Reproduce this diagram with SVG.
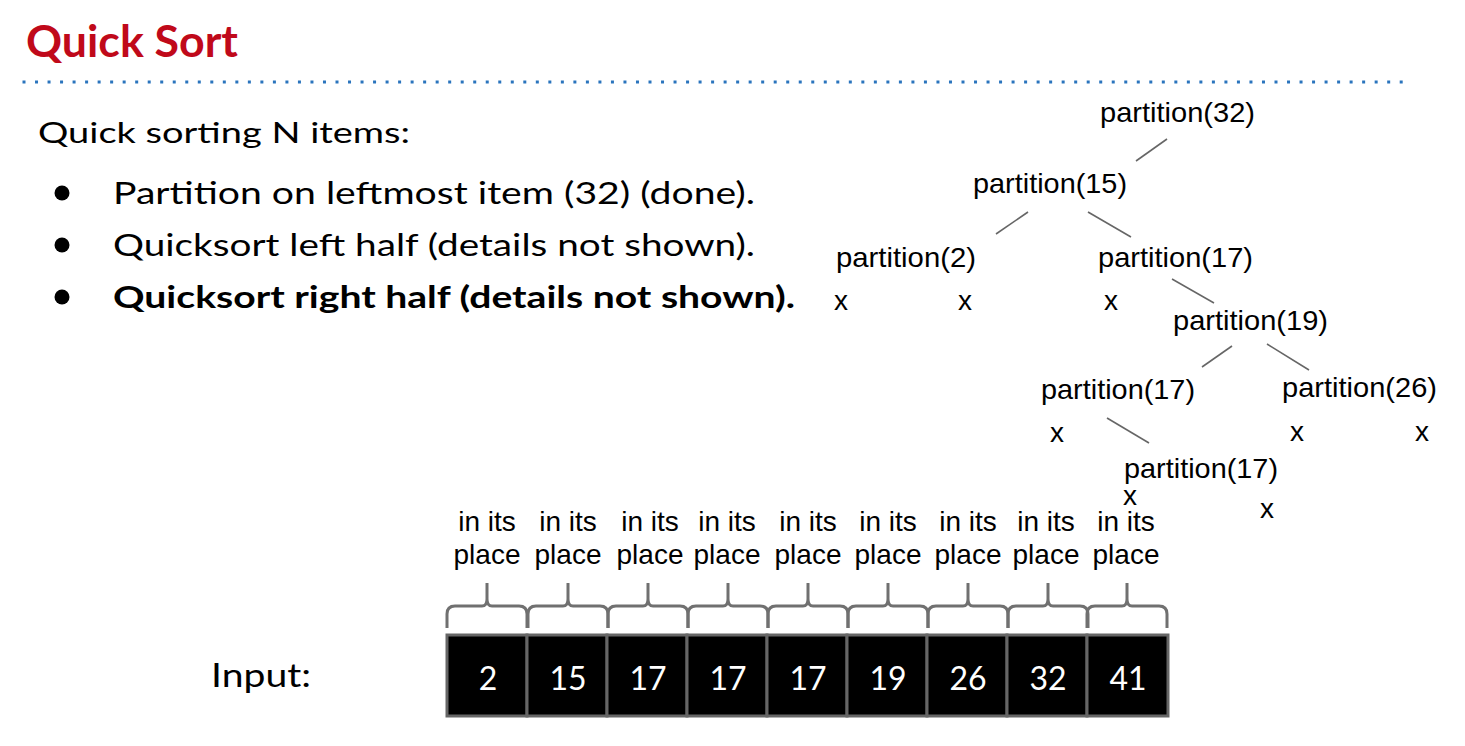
<svg xmlns="http://www.w3.org/2000/svg" width="1465" height="746" viewBox="0 0 1465 746">
<style>
.cal{font-family:Lato,"Open Sans","Liberation Sans",sans-serif;}
.ar{font-family:"Liberation Sans",Arial,sans-serif;font-size:28px;fill:#000;}
.bul{font-size:30px;fill:#000;}
.edge{stroke:#666;stroke-width:1.6;fill:none;}
.cell{fill:#000;stroke:#666;stroke-width:3;}
.num{font-size:32px;fill:#fff;text-anchor:middle;}
.brace{stroke:#707070;stroke-width:3;fill:none;stroke-linejoin:round;}
.lbl{text-anchor:middle;}
</style>
<defs>
<path id="br" d="M0,628 V614 Q0,606 8,606 H35 Q40,606 40,599 V583 M40,599 Q40,606 45,606 H72 Q80,606 80,614 V628"/>
</defs>
<rect width="1465" height="746" fill="#fff"/>
<g id="title">
<text class="cal" x="26" y="57" font-size="44" font-weight="bold" fill="#c0091a" textLength="212" lengthAdjust="spacingAndGlyphs">Quick Sort</text>
<line x1="22.5" y1="82" x2="1404" y2="82" stroke="#2a74bd" stroke-width="3" stroke-dasharray="3 9.52"/>
</g>
<g id="bullets">
<text class="cal" x="38" y="143" font-size="28" textLength="372" lengthAdjust="spacingAndGlyphs">Quick sorting N items:</text>
<circle cx="62" cy="193" r="7.5" fill="#000"/>
<circle cx="62" cy="245" r="7.5" fill="#000"/>
<circle cx="62" cy="297" r="7.5" fill="#000"/>
<text class="cal bul" x="113" y="204" textLength="642" lengthAdjust="spacingAndGlyphs">Partition on leftmost item (32) (done).</text>
<text class="cal bul" x="113" y="256" textLength="642" lengthAdjust="spacingAndGlyphs">Quicksort left half (details not shown).</text>
<text class="cal bul" x="113" y="308" font-weight="bold" textLength="682" lengthAdjust="spacingAndGlyphs">Quicksort right half (details not shown).</text>
</g>
<g id="connectors">
<line class="edge" x1="1167" y1="139" x2="1136" y2="161"/>
<line class="edge" x1="1028" y1="212" x2="996" y2="234"/>
<line class="edge" x1="1088" y1="212" x2="1131" y2="237"/>
<line class="edge" x1="1172" y1="279" x2="1214" y2="303"/>
<line class="edge" x1="1232" y1="346" x2="1202" y2="367"/>
<line class="edge" x1="1267" y1="344" x2="1309" y2="370"/>
<line class="edge" x1="1107" y1="418" x2="1149" y2="443"/>
</g>
<g id="p32"><text class="ar" x="1100" y="122" textLength="155" lengthAdjust="spacingAndGlyphs">partition(32)</text></g>
<g id="p15"><text class="ar" x="973" y="193" textLength="154" lengthAdjust="spacingAndGlyphs">partition(15)</text></g>
<g id="p2"><text class="ar" x="836" y="267" textLength="140" lengthAdjust="spacingAndGlyphs">partition(2)</text>
<text class="ar" x="834" y="310">x</text><text class="ar" x="958" y="310">x</text></g>
<g id="p17a"><text class="ar" x="1098" y="267" textLength="155" lengthAdjust="spacingAndGlyphs">partition(17)</text>
<text class="ar" x="1104" y="310">x</text></g>
<g id="p19"><text class="ar" x="1173" y="330" textLength="155" lengthAdjust="spacingAndGlyphs">partition(19)</text></g>
<g id="p17b"><text class="ar" x="1041" y="399" textLength="154" lengthAdjust="spacingAndGlyphs">partition(17)</text>
<text class="ar" x="1050" y="442">x</text></g>
<g id="p26"><text class="ar" x="1282" y="397" textLength="155" lengthAdjust="spacingAndGlyphs">partition(26)</text>
<text class="ar" x="1290" y="441">x</text><text class="ar" x="1415" y="441">x</text></g>
<g id="p17c"><text class="ar" x="1124" y="478" textLength="154" lengthAdjust="spacingAndGlyphs">partition(17)</text>
<text class="ar" x="1123" y="505">x</text><text class="ar" x="1260" y="518">x</text></g>
<g id="labels">
<text class="ar lbl" x="487" y="531">in its</text><text class="ar lbl" x="487" y="564">place</text>
<text class="ar lbl" x="568" y="531">in its</text><text class="ar lbl" x="568" y="564">place</text>
<text class="ar lbl" x="650" y="531">in its</text><text class="ar lbl" x="650" y="564">place</text>
<text class="ar lbl" x="727" y="531">in its</text><text class="ar lbl" x="727" y="564">place</text>
<text class="ar lbl" x="808" y="531">in its</text><text class="ar lbl" x="808" y="564">place</text>
<text class="ar lbl" x="888" y="531">in its</text><text class="ar lbl" x="888" y="564">place</text>
<text class="ar lbl" x="968" y="531">in its</text><text class="ar lbl" x="968" y="564">place</text>
<text class="ar lbl" x="1046" y="531">in its</text><text class="ar lbl" x="1046" y="564">place</text>
<text class="ar lbl" x="1126" y="531">in its</text><text class="ar lbl" x="1126" y="564">place</text>
</g>
<g id="braces">
<use href="#br" class="brace" transform="translate(447,0)"/>
<use href="#br" class="brace" transform="translate(528,0)"/>
<use href="#br" class="brace" transform="translate(608,0)"/>
<use href="#br" class="brace" transform="translate(688,0)"/>
<use href="#br" class="brace" transform="translate(768,0)"/>
<use href="#br" class="brace" transform="translate(848,0)"/>
<use href="#br" class="brace" transform="translate(928,0)"/>
<use href="#br" class="brace" transform="translate(1008,0)"/>
<use href="#br" class="brace" transform="translate(1087,0)"/>
</g>
<g id="array">
<rect class="cell" x="447" y="635" width="80" height="81"/>
<rect class="cell" x="527" y="635" width="80" height="81"/>
<rect class="cell" x="607" y="635" width="80" height="81"/>
<rect class="cell" x="687" y="635" width="80" height="81"/>
<rect class="cell" x="767" y="635" width="80" height="81"/>
<rect class="cell" x="847" y="635" width="80" height="81"/>
<rect class="cell" x="927" y="635" width="80" height="81"/>
<rect class="cell" x="1007" y="635" width="80" height="81"/>
<rect class="cell" x="1087" y="635" width="81" height="81"/>
<text class="cal num" x="488" y="690">2</text>
<text class="cal num" x="568" y="690">15</text>
<text class="cal num" x="648" y="690">17</text>
<text class="cal num" x="728" y="690">17</text>
<text class="cal num" x="808" y="690">17</text>
<text class="cal num" x="888" y="690">19</text>
<text class="cal num" x="968" y="690">26</text>
<text class="cal num" x="1048" y="690">32</text>
<text class="cal num" x="1128" y="690">41</text>
</g>
<g id="input"><text class="cal" x="211" y="687" font-size="32" textLength="100" lengthAdjust="spacingAndGlyphs">Input:</text></g>
</svg>
